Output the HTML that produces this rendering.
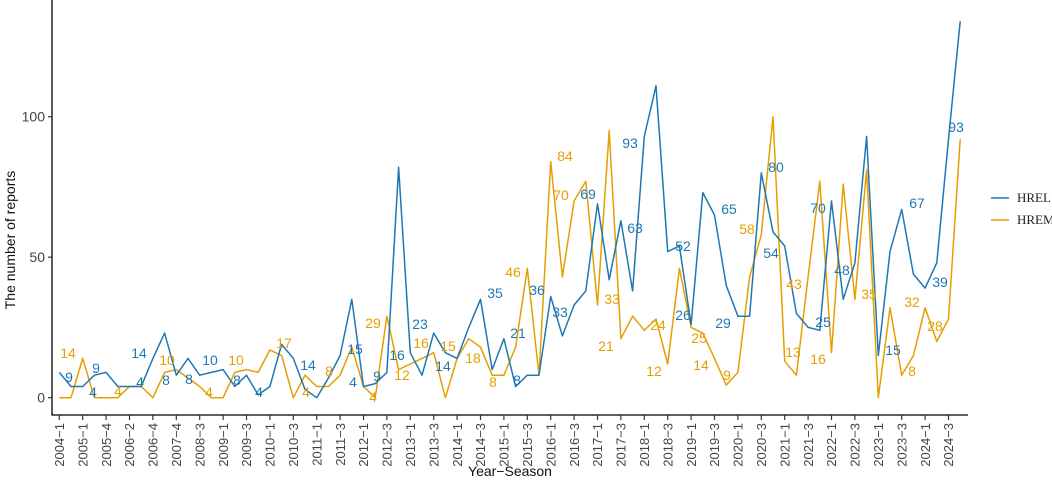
<!DOCTYPE html>
<html><head><meta charset="utf-8"><style>
body{margin:0;background:#fff;}
svg{display:block;font-family:"Liberation Sans",sans-serif;}
</style></head><body>
<svg id="chart" width="1052" height="480" viewBox="0 0 1052 480" xmlns="http://www.w3.org/2000/svg">
<g id="plot"></g>
<g id="axes"></g>
<g id="labels"></g>
<g font-family="Liberation Serif, serif" font-size="13" fill="#222">
  <line x1="991" y1="198" x2="1009" y2="198" stroke="#1f78b4" stroke-width="1.6"/>
  <text x="1017" y="202">HREL</text>
  <line x1="991" y1="220" x2="1009" y2="220" stroke="#e69f00" stroke-width="1.6"/>
  <text x="1017" y="224">HREM</text>
</g>
<text transform="translate(15,240) rotate(-90)" text-anchor="middle" font-size="14" fill="#111">The number of reports</text>
<text x="510" y="476" text-anchor="middle" font-size="14" fill="#111">Year−Season</text>
</svg>
<script>
const categories=["2004-1","2004-3","2005-1","2005-3","2005-4","2006-1","2006-2","2006-3","2006-4","2007-2","2007-4","2008-1","2008-3","2008-4",
"2009-1","2009-2","2009-3","2009-4","2010-1","2010-2","2010-3","2010-4","2011-1","2011-2","2011-3","2011-4","2012-1","2012-2","2012-3","2012-4",
"2013-1","2013-2","2013-3","2013-4","2014-1","2014-2","2014-3","2014-4","2015-1","2015-2","2015-3","2015-4","2016-1","2016-2","2016-3","2016-4",
"2017-1","2017-2","2017-3","2017-4","2018-1","2018-2","2018-3","2018-4","2019-1","2019-2","2019-3","2019-4","2020-1","2020-2","2020-3","2020-4",
"2021-1","2021-2","2021-3","2021-4","2022-1","2022-2","2022-3","2022-4","2023-1","2023-2","2023-3","2023-4","2024-1","2024-2","2024-3","2024-4"];
const hrel=[9,4,4,8,9,4,4,4,14,23,8,14,8,9,10,4,8,1,4,19,14,3,0,7,15,35,4,5,9,82,16,8,23,16,14,25,35,10,21,4,8,8,36,22,33,38,69,42,63,38,93,111,52,54,26,73,65,40,29,29,80,59,54,30,25,24,70,35,48,93,15,52,67,44,39,48,92,134];
const hrem=[0,0,14,0,0,0,4,4,0,9,10,7,4,0,0,9,10,9,17,15,0,8,4,4,8,18,4,0,29,10,12,14,16,0,14,21,18,8,8,18,46,8,84,43,70,77,33,95,21,29,24,28,12,46,25,23,14,4.5,9,43,58,100,13,8,43,77,16,76,35,81,0,32,8,15,32,20,28,92];
const yTicks=[0,50,100];
const lblBlue=[["9",69,377],["4",93,392],["9",96,368],["14",139,353],["4",140,382],["8",166,380],["8",189,379],["10",210,360],["8",237,380],["4",259,392],["14",308,365],["15",355,349],["4",353,382],["9",377,376],["16",397,355],["23",420,324],["14",443,366],["35",495,293],["21",518,333],["8",517,380],["36",537,290],["33",560,312],["69",588,194],["93",630,143],["63",635,228],["52",683,246],["26",683,315],["29",723,323],["65",729,209],["80",776,167],["54",771,253],["70",818,208],["25",823,322],["48",842,270],["15",893,350],["67",917,203],["39",940,282],["93",956,127]];
const lblOrange=[["14",68,353],["4",118,391],["10",167,360],["4",209,392],["10",236,360],["17",284,343],["4",306,392],["8",329,371],["29",373,323],["4",373,397],["12",402,375],["16",421,343],["15",448,346],["18",473,358],["8",493,382],["46",513,272],["84",565,156],["70",561,195],["33",612,299],["21",606,346],["24",658,325],["12",654,371],["25",699,338],["14",701,365],["9",727,375],["58",747,229],["43",794,284],["13",793,352],["16",818,359],["35",869,294],["32",912,302],["28",935,326],["8",912,371]];
const NS="http://www.w3.org/2000/svg";
const x0=59.3, dx=11.7, y0=397.7, ky=2.81;
function X(i){return x0+i*dx;}
function Y(v){return y0-v*ky;}
function mk(tag,attrs,parent){const e=document.createElementNS(NS,tag);for(const k in attrs)e.setAttribute(k,attrs[k]);parent.appendChild(e);return e;}
const plot=document.getElementById('plot'),axes=document.getElementById('axes'),labels=document.getElementById('labels');
function drawLine(vals,color,name){
  const p=mk('polyline',{points:vals.map((v,i)=>X(i).toFixed(1)+','+Y(v).toFixed(1)).join(' '),fill:'none',stroke:color,'stroke-width':1.5,'stroke-linejoin':'round'},plot);
  
  
}
drawLine(hrem,'#e69f00','hrem-line');
drawLine(hrel,'#1f78b4','hrel-line');
const ya=mk('line',{x1:52,y1:0,x2:52,y2:415,stroke:'#000','stroke-width':1.3},axes);


const xa=mk('line',{x1:51.4,y1:415,x2:968,y2:415,stroke:'#000','stroke-width':1.3},axes);


yTicks.forEach(t=>{
  const tk=mk('line',{x1:48,y1:Y(t),x2:52,y2:Y(t),stroke:'#333','stroke-width':1.2},axes);
  
  
  const tl=mk('text',{x:45,y:Y(t)+5,'text-anchor':'end','font-size':14,fill:'#444'},axes);
  tl.textContent=t;
  
  
});
categories.forEach((c,i)=>{
  if(i%2!==0)return;
  const tk=mk('line',{x1:X(i),y1:415,x2:X(i),y2:420,stroke:'#333','stroke-width':1.2},axes);
  
  
  const tl=mk('text',{transform:`translate(${X(i)+4.7},423) rotate(-90)`,'text-anchor':'end','font-size':13,fill:'#444'},axes);
  tl.textContent=c.replace('-','−');
  
  
});
function drawLabels(arr,color,name){
  arr.forEach(a=>{
    const t=mk('text',{x:a[1],y:a[2]+5,'text-anchor':'middle','font-size':14,fill:color},labels);
    t.textContent=a[0];
    
    
  });
}
drawLabels(lblOrange,'#e69f00','hrem-value-label');
drawLabels(lblBlue,'#1f78b4','hrel-value-label');
</script>
</body></html>
